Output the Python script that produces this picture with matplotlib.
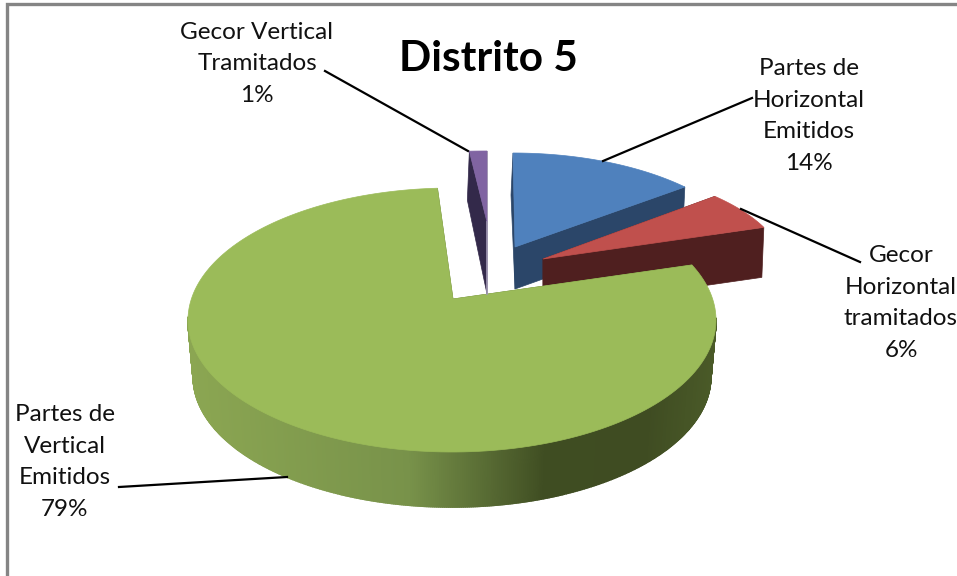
import numpy as np
import matplotlib
matplotlib.use("Agg")
import matplotlib.pyplot as plt
from matplotlib.colors import LinearSegmentedColormap
from matplotlib.patches import Polygon

names = ["Partes de\nHorizontal\nEmitidos", "Gecor\nHorizontal\ntramitados",
         "Partes de\nVertical\nEmitidos", "Gecor Vertical\nTramitados"]
values = [14, 6, 79, 1]
title = "Distrito 5"

# layout in pixels: ellipse centre, radii, apex, rim depth, apex depth
centers = [(513, 269), (543, 272), (452, 320), (487, 267)]
radii = [(243, 116), (243, 107), (264, 132), (320, 116)]
apexes = [(515, 247), (543, 259), (453, 299), (487, 222)]
depths = [42, 50, 57, 49]
apex_depths = [42, 50, 57, 72]
top_colors = ["#4f81bd", "#c0504d", "#9bbb59", "#8064a2"]
side_colors = ["#2b4669", "#4f1f1f", "#5a7030", "#33294a"]
label_pos = [(809, 116), (901, 303), (65, 462), (257, 64)]
leaders = [((603, 161), (752, 98)), ((741, 209), (860, 262)),
           ((287, 477), (119, 487)), ((468, 151), (325, 71))]

fig = plt.figure(figsize=(9.57, 5.76), dpi=100)
ax = fig.add_axes([0, 0, 1, 1])
ax.set_xlim(0, 957)
ax.set_ylim(576, 0)
ax.axis("off")
plt.rcParams["font.family"] = ["Lato", "DejaVu Sans"]

# grey frame, only top and left are on the picture
ax.plot([6.5, 6.5, 957], [576, 3.5, 3.5], color="#858585", lw=2.4, solid_joinstyle="miter")

side_cmap = LinearSegmentedColormap.from_list(
    "green_side",
    [(0.0, "#8ba652"), (0.42, "#78924a"), (0.68, "#3f4d22"), (0.87, "#3f4c22"), (1.0, "#4a5a28")],
)


def warp(a):
    # the perspective squeezes the back of the pie
    return a - np.radians(7) * np.sin(a)


def rim(i, start, end, n=200):
    t = warp(np.linspace(start, end, n))
    x = centers[i][0] + radii[i][0] * np.sin(t)
    y = centers[i][1] - radii[i][1] * np.cos(t)
    return t, x, y


edges = np.cumsum([0] + values) / sum(values) * 2 * np.pi

for i in [0, 1, 3, 2]:
    t, x, y = rim(i, edges[i], edges[i + 1])
    ax_, ay_ = apexes[i]
    d, ad = depths[i], apex_depths[i]

    # faces of the cut
    for k in [0, -1]:
        ax.add_patch(Polygon([(x[k], y[k]), (ax_, ay_), (ax_, ay_ + ad), (x[k] - 2, y[k] + d)],
                             fc=side_colors[i], ec=side_colors[i], lw=0.5))

    if i == 3:
        ax.plot([ax_, ax_], [ay_, ay_ + ad], color="#a39ab5", lw=1.2)

    # outer wall, shaded strip by strip; the lower rim is a bit narrower
    if i == 2:
        tt, xx, yy = rim(i, edges[i], edges[i + 1], 700)
        bx = centers[i][0] + (xx - centers[i][0]) * 0.98
        by = centers[i][1] + d + (yy - centers[i][1]) * 0.985
        for j in range(len(tt) - 1):
            if np.cos(tt[j]) > 0.02:
                continue
            col = side_cmap((xx[j] - xx.min()) / (xx.max() - xx.min()))
            ax.add_patch(Polygon([(xx[j], yy[j]), (xx[j + 1], yy[j + 1]),
                                  (bx[j + 1], by[j + 1]), (bx[j], by[j])],
                                 fc=col, ec=col, lw=1.2))

    ax.add_patch(Polygon(list(zip(x, y)) + [(ax_, ay_)], fc=top_colors[i], ec=top_colors[i], lw=0.5))

for (a, b) in leaders:
    ax.plot([a[0], b[0]], [a[1], b[1]], color="black", lw=1.6)

for name, val, pos in zip(names, values, label_pos):
    ax.text(pos[0], pos[1], f"{name}\n{val}%", ha="center", va="center",
            fontsize=17.5, linespacing=1.62, color="#111111")

ax.text(488, 59, title, ha="center", va="center", fontsize=30.5, fontweight="bold", color="black")

fig.savefig("out.png", dpi=100)
